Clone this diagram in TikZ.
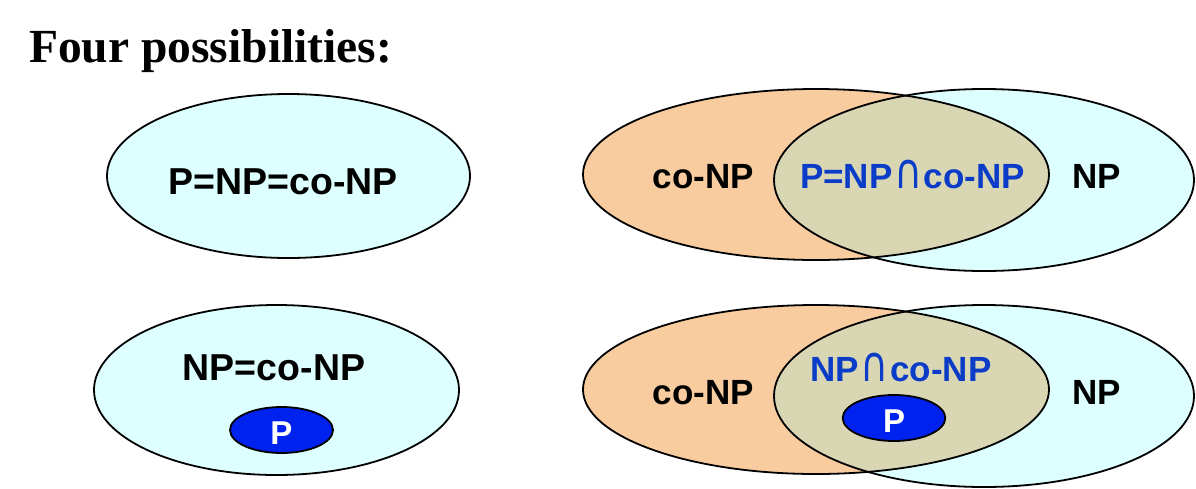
\documentclass[tikz,border=0pt]{standalone}
\usepackage{fontspec}
\setmainfont{Liberation Serif}
\setsansfont{Liberation Sans}
\newfontfamily\capfont{DejaVu Sans}
% tall, thin intersection sign reaching cap height
\newcommand{\setcap}{\kern1.5pt\scalebox{1.1}[1.4]{\capfont\mdseries ∩}\kern1.5pt}
\definecolor{setcyan}{RGB}{221,255,255}
\definecolor{setorange}{RGB}{248,204,158}
\definecolor{setboth}{RGB}{217,214,180}
\definecolor{pblue}{RGB}{0,34,238}
\definecolor{labelblue}{RGB}{10,60,200}
\tikzset{
  setline/.style={draw=black, line width=1.8pt},
  lbl/.style={anchor=base, inner sep=0pt, font=\sffamily\bfseries\fontsize{35}{40}\selectfont},
  biglbl/.style={lbl, font=\sffamily\bfseries\fontsize{37.5}{42}\selectfont},
  plbl/.style={anchor=base, inner sep=0pt, text=white, font=\sffamily\bfseries\fontsize{33}{38}\selectfont},
}
\begin{document}
\begin{tikzpicture}[x=1pt, y=-1pt]
\useasboundingbox (0,0) rectangle (1196,488);

% heading
\node[anchor=base west, inner sep=0pt, font=\rmfamily\bfseries\fontsize{47.5}{52}\selectfont] (title) at (29,62) {Four possibilities:};

% case 1: all three classes coincide
\path[setline, fill=setcyan] (288.5,176) ellipse [x radius=181.5, y radius=82];
\node[biglbl] (all) at (283,194) {P=NP=co-NP};

% case 2: NP = co-NP, P strictly inside
\path[setline, fill=setcyan] (276.5,390) ellipse [x radius=182.5, y radius=85];
\node[biglbl] (npeq) at (274,380.5) {NP=co-NP};
\path[setline, fill=pblue] (281.5,430) ellipse [x radius=51.5, y radius=23];
\node[plbl] (p1) at (281.5,444) {P};

% case 3: P equals the intersection
\path[fill=setcyan] (984,180) ellipse [x radius=210, y radius=91];
\path[fill=setorange] (816,174.5) ellipse [x radius=233, y radius=85.5];
\begin{scope}
  \clip (816,174.5) ellipse [x radius=233, y radius=85.5];
  \fill[setboth] (984,180) ellipse [x radius=210, y radius=91];
\end{scope}
\draw[setline] (984,180) ellipse [x radius=210, y radius=91];
\draw[setline] (816,174.5) ellipse [x radius=233, y radius=85.5];
\node[lbl] (conp1) at (703.5,188) {co-NP};
\node[lbl, text=labelblue] (inter1) at (912.5,188) {P=NP\setcap co-NP};
\node[lbl] (np1) at (1096.5,188) {NP};

% case 4: P strictly inside the intersection
\path[fill=setcyan] (984,396) ellipse [x radius=210, y radius=91];
\path[fill=setorange] (816,389.5) ellipse [x radius=233, y radius=84.5];
\begin{scope}
  \clip (816,389.5) ellipse [x radius=233, y radius=84.5];
  \fill[setboth] (984,396) ellipse [x radius=210, y radius=91];
\end{scope}
\draw[setline] (984,396) ellipse [x radius=210, y radius=91];
\draw[setline] (816,389.5) ellipse [x radius=233, y radius=84.5];
\node[lbl] (conp2) at (703.5,404) {co-NP};
\node[lbl, text=labelblue] (inter2) at (901,381.5) {NP\setcap co-NP};
\path[setline, fill=pblue] (894,418) ellipse [x radius=51.3, y radius=23];
\node[plbl] (p2) at (894,432) {P};
\node[lbl] (np2) at (1096.5,404) {NP};
\end{tikzpicture}
\end{document}
